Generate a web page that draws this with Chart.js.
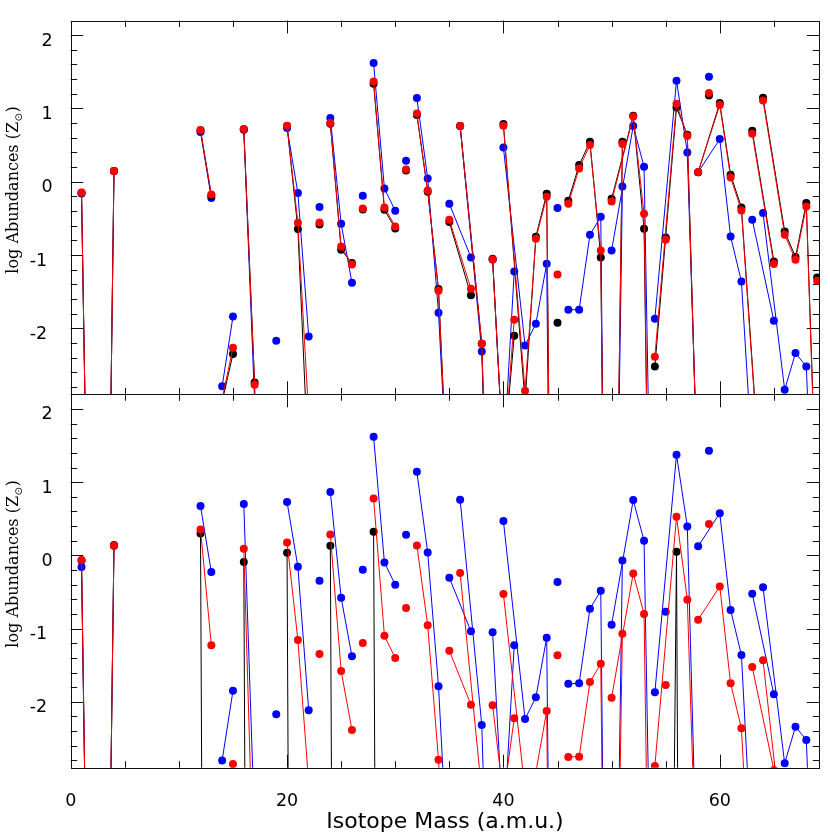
<!DOCTYPE html>
<html><head><meta charset="utf-8">
<script src="https://cdn.jsdelivr.net/npm/chart.js@4.4.1/dist/chart.umd.min.js"></script>
<style>
html,body{margin:0;padding:0;background:#fff;}
#wrap{position:relative;width:830px;height:835px;background:#fff;}
canvas{position:absolute;left:0;top:0;}
</style></head><body>
<div id="wrap"><canvas id="c2" width="830" height="835"></canvas><canvas id="c1" width="830" height="835"></canvas></div>
<script>
// ---------------- data ----------------
const elements = ['H','He','C','N','O','F','Ne','Na','Mg','Al','Si','P','S','Cl','Ar','K','Ca','Sc','Ti','V','Cr','Mn','Fe','Co','Ni','Cu','Zn','Ga'];
const isotopeMasses = [[1,2],[3,4],[12,13],[14,15],[16,17,18],[19],[20,21,22],[23],[24,25,26],[27],[28,29,30],[31],[32,33,34,36],[35,37],[36,38,40],[39,40,41],[40,42,43,44,46,48],[45],[46,47,48,49,50],[50,51],[50,52,53,54],[55],[54,56,57,58],[59],[58,60,61,62,64],[63,65],[64,66,67,68,70],[69]];

const topBlack = [[-0.15,-9],[-11,0.146],[0.70,-0.19],[-3.0,-2.35],[0.715,-2.74,-15],[-10],[0.76,-0.646,-3.95],[-0.582],[0.79,-0.928,-1.11],[-0.38],[1.337,-0.382,-0.637],[0.155],[0.91,-0.135,-1.464,-7.9],[-0.55,-1.55],[0.76,-2.21,-12],[-1.06,-3.8,-2.1],[0.787,-3.0,-0.75,-0.164,-30,-30],[-1.924],[-0.259,0.228,0.546,-1.033,-15],[-10,0.546],[-0.232,0.90,-0.641,-11],[-0.77],[-2.52,1.014,0.64,-4.4],[1.177],[0.13,1.073,0.095,-0.35,-4.6],[0.696,-1.087],[1.146,-0.678,-1.028,-0.291,-9],[-1.306]];
const topRed = [[-0.146,-9],[-11,0.146],[0.705,-0.173],[-2.96,-2.265],[0.719,-2.77,-15],[-10],[0.764,-0.559,-3.19],[-0.555],[0.80,-0.882,-1.128],[-0.364],[1.369,-0.35,-0.609],[0.168],[0.932,-0.119,-1.487,-7.9],[-0.518,-1.46],[0.76,-2.206,-12],[-1.06,-3.8,-1.883],[0.764,-2.85,-0.778,-0.205,-30,-30],[-1.265],[-0.30,0.182,0.50,-0.937,-15],[-10,0.514],[-0.268,0.891,-0.437,-11],[-0.791],[-2.387,1.064,0.623,-4.4],[1.21],[0.132,1.046,0.059,-0.391,-4.65],[0.655,-1.123],[1.109,-0.723,-1.064,-0.337,-9.2],[-1.35]];
const topBlue = [[-0.16,-9],[-11,0.146],[0.678,-0.223],[-2.79,-1.84],[0.71,-3.0,-15],[-2.17],[0.733,-0.154,-2.11],[-0.345],[0.869,-0.573,-1.378],[-0.191],[1.619,-0.091,-0.396],[0.286],[1.142,0.045,-1.787,-7.4],[-0.30,-1.032],[0.76,-2.315,-12],[-1.05,-3.8,-1.223],[0.468,-2.233,-1.937,-1.119,-30,-30],[-0.359],[-1.746,-1.746,-0.723,-0.478,-15],[-10,-0.064],[-0.937,0.76,0.205,-8],[-0.76],[-1.869,1.378,0.40,-4.3],[1.432],[0.13,0.582,-0.746,-1.36,-6.2],[-0.518,-1.896],[-0.428,-2.838,-2.337,-2.52,-10],[-5]];

const bottomBlack = [[-0.07,-10],[-11,0.13],[0.30,-30],[-30,-30],[-0.091,-30,-30],[-30],[0.036,-30,-30],[-30],[0.131,-30,-30],[-30],[0.323,-30,-30],[-30],[-30,-30,-30,-30],[-30,-30],[-30,-30,-30],[-30,-30,-30],[-30,-30,-30,-30,-30,-30],[-30],[-30,-30,-30,-30,-30],[-30,-30],[-30,-30,-30,-30],[-30],[-30,0.05,-30,-30],[-30],[-30,-30,-30,-30,-30],[-30,-30],[-30,-30,-30,-30,-30],[-30]];
const bottomRed = [[-0.064,-10],[-11,0.131],[0.355,-1.229],[-3.3,-2.85],[0.09,-4.9,-15],[-10],[0.177,-1.156,-3.1],[-1.347],[0.286,-1.58,-2.385],[-1.197],[0.778,-1.097,-1.402],[-0.719],[0.136,-0.956,-2.79,-8],[-1.302,-2.04],[-0.242,-3.24,-12],[-2.048,-3.3,-2.226],[-0.528,-3.21,-2.96,-2.126,-30,-30],[-1.365],[-2.753,-2.749,-1.73,-1.48,-15],[-10,-1.07],[-1.944,-0.246,-0.80,-11],[-1.771],[-2.877,0.527,-0.606,-5.2],[0.427],[-0.879,-0.424,-1.748,-2.362,-7.8],[-1.525,-2.93],[-1.434,-4.1,-4.5,-4.3,-10],[-5]];
const bottomBlue = [[-0.16,-10],[-11,0.14],[0.673,-0.228],[-2.80,-1.848],[0.70,-3.7,-15],[-2.17],[0.728,-0.155,-2.116],[-0.346],[0.864,-0.578,-1.379],[-0.196],[1.62,-0.096,-0.401],[0.282],[1.142,0.04,-1.788,-7.4],[-0.305,-1.038],[0.759,-2.317,-12],[-1.051,-3.8,-1.229],[0.468,-2.235,-1.939,-1.125,-30,-30],[-0.364],[-1.753,-1.748,-0.729,-0.483,-15],[-10,-0.069],[-0.947,0.755,0.2,-8],[-0.77],[-1.871,1.374,0.396,-5.1],[1.428],[0.123,0.577,-0.747,-1.361,-7.0],[-0.524,-1.898],[-0.437,-2.84,-2.34,-2.52,-10],[-5]];

const yTickValues = [-2,-1,0,1,2];
const xTickValues = [0,20,40,60];
const xRange = [0, 69.2];
const yRange = [-2.9, 2.2];
const yTitle = 'log Abundances (Z';
const ySub = '\u2299';
const xTitle = 'Isotope Mass (a.m.u.)';

// ---------------- helpers ----------------
function buildPoints(vals){
  const pts = [];
  isotopeMasses.forEach((ms,i)=>{
    ms.forEach((m,j)=>pts.push({x:m, y:vals[i][j]}));
    pts.push({x:ms[ms.length-1]+0.5, y:null});
  });
  return pts;
}
function ds(vals, color){
  return {data:buildPoints(vals), borderColor:color, backgroundColor:color, borderWidth:1,
    pointRadius:4, pointHoverRadius:4, pointBorderWidth:0, pointBackgroundColor:color,
    tension:0, spanGaps:false, clip:0};
}

const framePlugin = {
  id:'frame',
  beforeDatasetsDraw(chart){
    const {ctx, chartArea:a, scales:{x,y}} = chart;
    ctx.save();
    ctx.strokeStyle = '#111'; ctx.lineWidth = 1;
    ctx.beginPath();
    for (let v = 5; v < xRange[1]; v += 5){
      const px = Math.round(x.getPixelForValue(v)) + 0.5;
      const len = (v % 20 === 0) ? 13 : 6.5;
      ctx.moveTo(px, a.top); ctx.lineTo(px, a.top + len);
      ctx.moveTo(px, a.bottom); ctx.lineTo(px, a.bottom - len);
    }
    for (let k = -14; k <= 11; k++){
      const py = Math.round(y.getPixelForValue(k/5)) + 0.5;
      const len = (k % 5 === 0) ? 12.5 : 6.5;
      ctx.moveTo(a.left, py); ctx.lineTo(a.left + len, py);
      ctx.moveTo(a.right, py); ctx.lineTo(a.right - len, py);
    }
    ctx.stroke();
    ctx.strokeRect(Math.round(a.left)+0.5, Math.round(a.top)+0.5, Math.round(a.right)-Math.round(a.left), Math.round(a.bottom)-Math.round(a.top));
    ctx.restore();
  }
};

const yTitlePlugin = {
  id:'ytitle',
  afterDraw(chart, args, opts){
    const ctx = chart.ctx;
    ctx.save();
    ctx.translate(0, opts.center);
    ctx.rotate(-Math.PI/2);
    ctx.fillStyle = '#000';
    ctx.textBaseline = 'alphabetic';
    ctx.textAlign = 'left';
    const main = '16px "DejaVu Serif"', sub = '10px "DejaVu Sans"';
    ctx.font = main; const w1 = ctx.measureText(yTitle).width; const w3 = ctx.measureText(')').width;
    ctx.font = sub; const w2 = ctx.measureText(ySub).width;
    const total = w1 + w2 + w3 + 1;
    let u = -total/2; const base = 18;
    ctx.font = main; ctx.fillText(yTitle, u, base); u += w1;
    ctx.font = sub; ctx.fillText(ySub, u + 0.5, base + 4); u += w2 + 1;
    ctx.font = main; ctx.fillText(')', u, base);
    ctx.restore();
  }
};

const tickFont = {family:'DejaVu Sans', size:17.5};

function yScale(){
  return {
    type:'linear', min:yRange[0], max:yRange[1],
    afterFit(s){ s.width = 70.7; },
    afterBuildTicks(s){ s.ticks = yTickValues.map(v=>({value:v})); },
    grid:{display:false}, border:{display:false},
    ticks:{font:tickFont, color:'#000', padding:10, labelOffset:6,
      callback:(v)=> v < 0 ? v + ' ' : String(v)}
  };
}

Chart.defaults.animation = false;

new Chart(document.getElementById('c1'), {
  type:'line',
  data:{datasets:[ds(topRed,'#ff0000'), ds(topBlack,'#000000'), ds(topBlue,'#0000ff')]},
  options:{
    responsive:false, devicePixelRatio:1, animation:false,
    layout:{padding:{top:20, bottom:440.7, left:0, right:10.7}},
    plugins:{legend:{display:false}, tooltip:{enabled:false}, ytitle:{center:190}},
    events:[],
    scales:{
      x:{type:'linear', min:xRange[0], max:xRange[1], display:false},
      y:yScale()
    }
  },
  plugins:[framePlugin, yTitlePlugin]
});

new Chart(document.getElementById('c2'), {
  type:'line',
  data:{datasets:[ds(bottomRed,'#ff0000'), ds(bottomBlack,'#000000'), ds(bottomBlue,'#0000ff')]},
  options:{
    responsive:false, devicePixelRatio:1, animation:false,
    layout:{padding:{top:394.3, bottom:0, left:0, right:10.7}},
    plugins:{legend:{display:false}, tooltip:{enabled:false}, ytitle:{center:564}},
    events:[],
    scales:{
      x:{type:'linear', min:xRange[0], max:xRange[1],
        afterFit(s){ s.height = 835 - 767.7; },
        afterBuildTicks(s){ s.ticks = xTickValues.map(v=>({value:v})); },
        grid:{display:false}, border:{display:false},
        ticks:{font:tickFont, color:'#000', padding:15, maxRotation:0},
        title:{display:true, text:xTitle, font:{family:'DejaVu Sans', size:22}, color:'#000', padding:{top:0,bottom:0}}
      },
      y:yScale()
    }
  },
  plugins:[framePlugin, yTitlePlugin]
});
</script>
</body></html>
